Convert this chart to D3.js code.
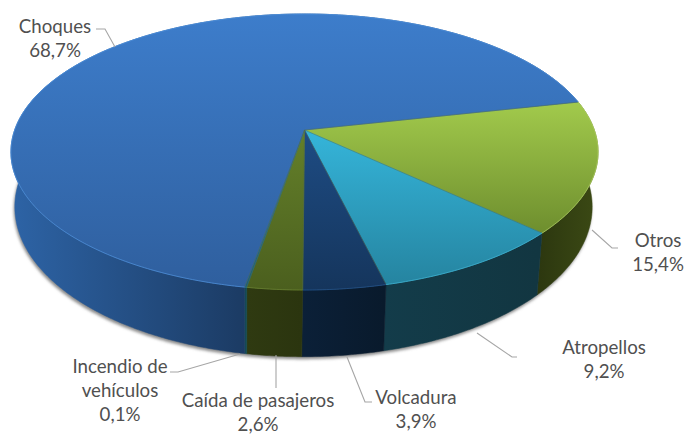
<!DOCTYPE html>
<html><head><meta charset="utf-8">
<script src="https://cdn.jsdelivr.net/npm/d3@7"></script>
<style>html,body{margin:0;padding:0;background:#fff}svg{display:block}text{font-family:Lato,"Open Sans",sans-serif;font-size:18.7px;fill:#505050}</style>
</head><body><svg id="c" width="686" height="435"></svg>
<script>
const categories = ["Otros","Atropellos","Volcadura","Caída de pasajeros","Incendio de vehículos","Choques"];
const values = [15.4,9.2,3.9,2.6,0.1,68.7];
const labelLines = [["Otros"],["Atropellos"],["Volcadura"],["Caída de pasajeros"],["Incendio de","vehículos"],["Choques"]];
const topStart = ["#a2ca4c","#35b5da","#1e4c84","#64802a","#2a7f9a","#3d7dcb"];
const topEnd = ["#6e8e2e","#2584a0","#15355c","#4b5f1e","#1f6075","#2f5f9e"];
const wallStart = ["#2c370f","#133c4a","#0b2038","#2f3a11","#134a55","#2d63a5"];
const wallEnd = ["#3a4814","#123641","#091a2c","#2b350f","#134a55","#1b3a62"];
const rimColors = ["#b2d264","#3fb8d8","#24558f","#6b8530","#2a7f9a","#4f93e0"];
const labelX = [658,604,416,258,120,55];
const labelY = [240,347,397,400,366,26];
const leaders = [
  [[592,230],[612,248],[618,248]],
  [[477,333],[512,357],[517,357]],
  [[347,357],[365,402],[372,402]],
  [[276,355],[276,388]],
  [[240,354],[178,372],[170,372]],
  [[96,29],[105,29],[115,47]]
];
const startDeg = 77.6, K = 0.1594;
const topFace = {cx:304.5, cy:130, R:289.8, H:134.5};
const baseFace = {cx:303.5, cy:183, R:285, H:146};

const svg = d3.select("#c");
const defs = svg.append("defs");
const a0 = startDeg*Math.PI/180;
const arcs = d3.pie().sort(null).startAngle(a0).endAngle(a0+2*Math.PI)(values);

function project(a, f){
  const X = Math.sin(a), Y = Math.cos(a), w = 1 + K*Y;
  return [f.cx + f.R*X/w, f.cy - f.H*Y/w];
}
function samples(s,e){ const n = Math.max(2,Math.ceil((e-s)/0.01)); return d3.range(n+1).map(i=>s+(e-s)*i/n); }
const line = d3.line();

function grad(id,c0,c1,attrs){
  const g = defs.append("linearGradient").attr("id",id).attr("gradientUnits","userSpaceOnUse");
  Object.entries(attrs).forEach(([k,v])=>g.attr(k,v));
  g.append("stop").attr("offset",0).attr("stop-color",c0);
  g.append("stop").attr("offset",1).attr("stop-color",c1);
}
const f = defs.append("filter").attr("id","sh").attr("x","-10%").attr("y","-10%").attr("width","120%").attr("height","120%");
f.append("feGaussianBlur").attr("stdDeviation",1.8);

// shadow under the drum
svg.append("path")
  .attr("d", line(samples(0,2*Math.PI).map(a=>{const p=project(a,baseFace);return [p[0]-1,p[1]+2.5];}))+"Z")
  .attr("fill","#8a8a8a").attr("filter","url(#sh)");

// walls
arcs.forEach((d,i)=>{
  const pts = samples(d.startAngle,d.endAngle);
  const lo = pts.map(a=>project(a,baseFace)), up = pts.map(a=>project(a,topFace));
  const wide = i===5;
  const xs = lo.map(p=>p[0]);
  grad("w"+i, wallStart[i], wallEnd[i], wide ? {x1:14,x2:250,y1:0,y2:0} : {x1:d3.min(xs),x2:d3.max(xs),y1:0,y2:0});
  const poly = up.concat(lo.slice().reverse());
  svg.append("path").attr("d",line(poly)+"Z").attr("fill",`url(#w${i})`)
    .attr("stroke",`url(#w${i})`).attr("stroke-width",0.5);
});

// top faces
arcs.forEach((d,i)=>{
  const pts = samples(d.startAngle,d.endAngle).map(a=>project(a,topFace));
  const ys = pts.map(p=>p[1]).concat([topFace.cy]);
  grad("t"+i, topStart[i], topEnd[i], {x1:0,x2:0,y1:d3.min(ys),y2:d3.max(ys)});
  svg.append("path").attr("d",line([[topFace.cx,topFace.cy]].concat(pts))+"Z")
    .attr("fill",`url(#t${i})`).attr("stroke",`url(#t${i})`).attr("stroke-width",0.6);
});
// seams and rim
arcs.forEach((d,i)=>{
  const p = project(d.startAngle,topFace);
  svg.append("path").attr("d",line([[topFace.cx,topFace.cy],p])).attr("stroke","#4f6a4a").attr("stroke-opacity",0.55).attr("stroke-width",0.8).attr("fill","none");
  svg.append("path").attr("d",line(samples(d.startAngle,d.endAngle).map(a=>project(a,topFace))))
    .attr("stroke",rimColors[i]).attr("stroke-opacity",0.7).attr("stroke-width",1).attr("fill","none");
});

// leaders
leaders.forEach(l=>svg.append("path").attr("d",line(l)).attr("fill","none").attr("stroke","#a6a6a6").attr("stroke-width",1.1));

// labels
const fmt = v => v.toFixed(1).replace(".",",")+"%";
categories.forEach((c,i)=>{
  const rows = labelLines[i].concat([fmt(values[i])]);
  const t = svg.append("text").attr("text-anchor","middle");
  rows.forEach((r,j)=>t.append("tspan").attr("x",labelX[i]).attr("y",labelY[i]+j*24).attr("dominant-baseline","central").text(r));
});
</script></body></html>
